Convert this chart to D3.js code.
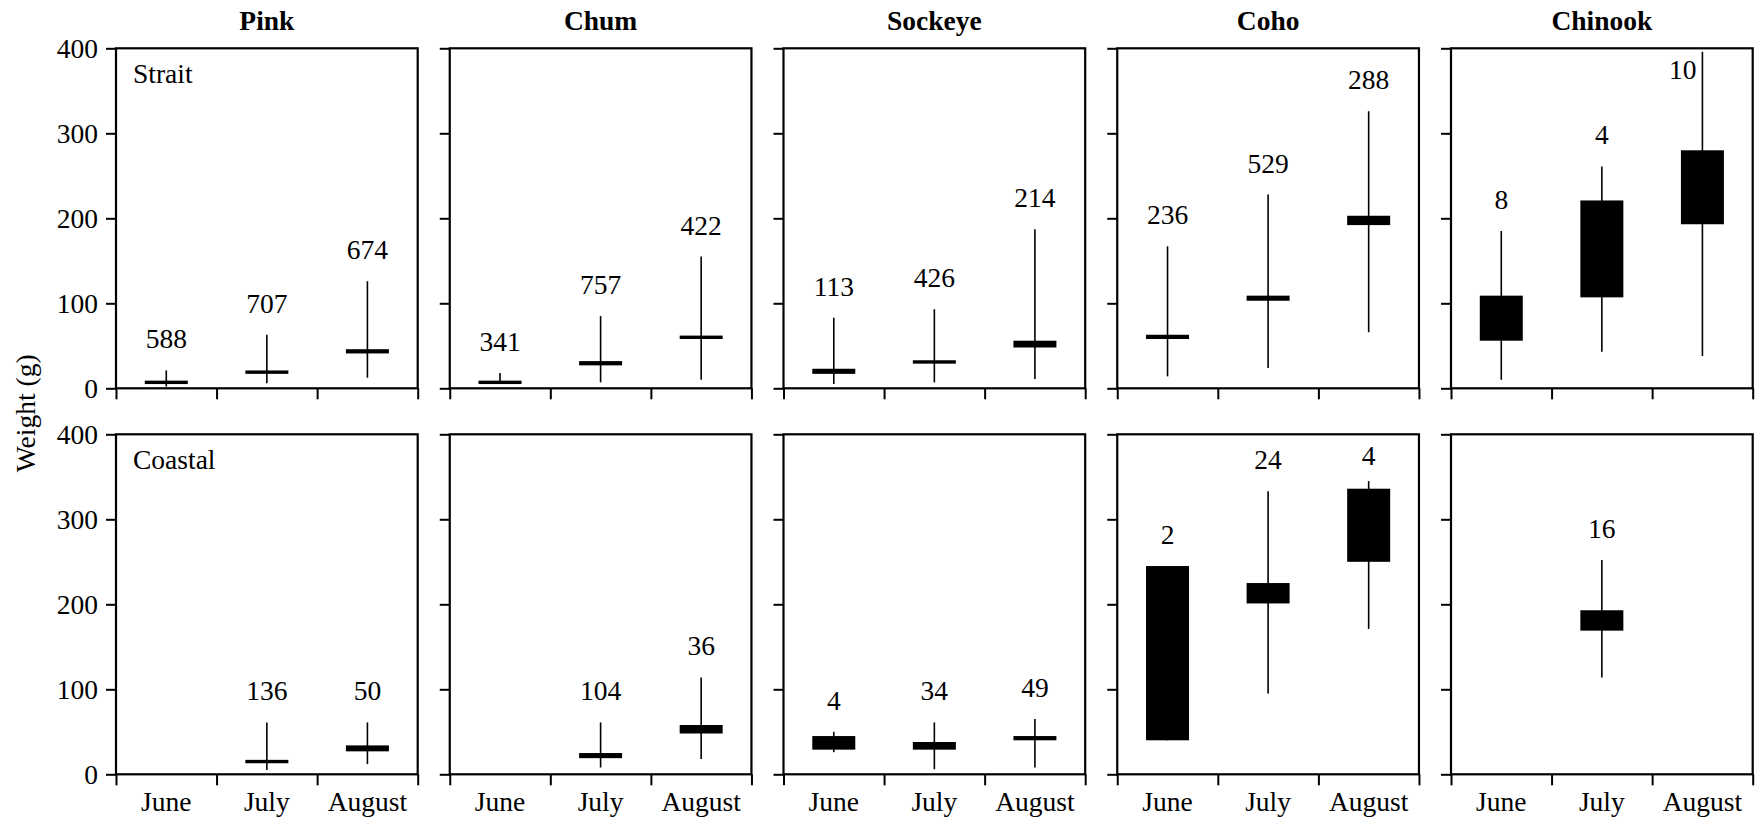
<!DOCTYPE html>
<html>
<head>
<meta charset="utf-8">
<script src="https://cdn.jsdelivr.net/npm/d3@7/dist/d3.min.js"></script>
<style>
  html, body { margin: 0; padding: 0; background: #fff; }
  svg { display: block; }
</style>
</head>
<body>
<svg id="chart" width="1760" height="822"></svg>
<script>
// Juvenile salmon weights by species, month and survey region
const species = ["Pink", "Chum", "Sockeye", "Coho", "Chinook"];
const months = ["June", "July", "August"];
const regions = ["Strait", "Coastal"];
const yTicks = [0, 100, 200, 300, 400];

// Strait of Georgia — [species][month]
const straitN       = [[588, 707, 674], [341, 757, 422], [113, 426, 214], [236, 529, 288], [8, 4, 10]];
const straitMin     = [[2, 6, 12.5], [6, 7, 10], [5, 7, 11], [14, 24, 66], [10, 43, 38]];
const straitBoxLow  = [[5, 17, 41], [5, 27, 58], [17, 29, 48], [58, 103, 192], [56, 107, 193]];
const straitBoxHigh = [[9, 21, 46], [9, 32, 62], [23, 33, 56], [63, 109, 203], [109, 221, 280]];
const straitMax     = [[21, 63, 126], [18, 85, 155], [83, 93, 187], [167, 228, 326], [185, 261, 396]];

// Coastal waters — [species][month]; null where no fish were caught
const coastalN       = [[null, 136, 50], [null, 104, 36], [4, 34, 49], [2, 24, 4], [null, 16, null]];
const coastalMin     = [[null, 5, 12], [null, 8, 18], [26, 6, 8], [40, 95, 171], [null, 114, null]];
const coastalBoxLow  = [[null, 13, 27], [null, 19, 48], [29, 29, 40], [40, 201, 250], [null, 169, null]];
const coastalBoxHigh = [[null, 17, 34], [null, 25, 58], [45, 38, 45], [245, 225, 336], [null, 193, null]];
const coastalMax     = [[null, 61, 61], [null, 61, 114], [50, 61, 65], [245, 333, 345], [null, 252, null]];

const regionData = [
  { n: straitN, min: straitMin, lo: straitBoxLow, hi: straitBoxHigh, max: straitMax },
  { n: coastalN, min: coastalMin, lo: coastalBoxLow, hi: coastalBoxHigh, max: coastalMax }
];

// Layout
const FONT = '"Liberation Serif"';
const svg = d3.select("#chart");
const panelW = 301.7, panelH = 340;
const colLeft = d3.scaleLinear().domain([0, 1]).range([116, 116 + 333.75]);
const rowTop = [48.3, 434.3];
const boxW = 43;
const fontSize = 27.5;

function label(sel) {
  return sel.style("font-family", FONT)
    .style("font-size", fontSize + "px").attr("fill", "#000");
}

species.forEach((sp, si) => {
  const x0 = colLeft(si);
  const xBand = d3.scaleBand().domain(months).range([x0, x0 + panelW]).padding(0);
  const xEdge = d3.scaleLinear().domain([0, months.length]).range([x0, x0 + panelW]);

  // species title
  label(svg.append("text"))
    .attr("x", x0 + panelW / 2).attr("y", 30)
    .attr("text-anchor", "middle")
    .style("font-weight", "bold")
    .text(sp);

  regions.forEach((rg, ri) => {
    const top = rowTop[ri], bottom = top + panelH;
    const y = d3.scaleLinear().domain([0, 400]).range([bottom, top]);
    const d = regionData[ri];
    const g = svg.append("g");

    // y axis (labels only on the first column)
    const yAxis = d3.axisLeft(y).tickValues(yTicks).tickSize(10).tickPadding(8)
      .tickFormat(si === 0 ? d3.format("d") : () => "");
    const ya = g.append("g").attr("transform", `translate(${x0},0)`).call(yAxis);
    ya.select(".domain").remove();
    ya.selectAll("line").attr("stroke", "#000").attr("stroke-width", 2);
    label(ya.selectAll("text"));

    // x axis: ticks at month boundaries, month names on the bottom row
    const xAxis = d3.axisBottom(xEdge).tickValues(d3.range(months.length + 1))
      .tickSize(11).tickFormat(() => "");
    const xa = g.append("g").attr("transform", `translate(0,${bottom})`).call(xAxis);
    xa.select(".domain").remove();
    xa.selectAll("line").attr("stroke", "#000").attr("stroke-width", 2);
    if (ri === 1) {
      months.forEach(m => {
        label(g.append("text"))
          .attr("x", xBand(m) + xBand.bandwidth() / 2).attr("y", bottom + 37)
          .attr("text-anchor", "middle")
          .text(m);
      });
    }

    // frame
    g.append("rect")
      .attr("x", x0).attr("y", top).attr("width", panelW).attr("height", panelH)
      .attr("fill", "none").attr("stroke", "#000").attr("stroke-width", 2.2);

    if (si === 0) {
      label(g.append("text")).attr("x", x0 + 17).attr("y", top + 35).text(rg);
    }

    // boxes, whiskers and sample sizes
    months.forEach((m, mi) => {
      const n = d.n[si][mi];
      if (n == null) return;
      const cx = xBand(m) + xBand.bandwidth() / 2;
      const vMin = d.min[si][mi], vMax = d.max[si][mi];
      const vLo = d.lo[si][mi], vHi = d.hi[si][mi];

      g.append("line")
        .attr("x1", cx).attr("x2", cx)
        .attr("y1", y(vMin)).attr("y2", y(vMax))
        .attr("stroke", "#000").attr("stroke-width", 1.6);

      g.append("rect")
        .attr("x", cx - boxW / 2).attr("width", boxW)
        .attr("y", y(vHi)).attr("height", y(vLo) - y(vHi))
        .attr("fill", "#000");

      // sample size sits above the highest mark, kept inside the frame
      const markTop = y(Math.max(vMax, vHi));
      const minBase = top + 31;
      let base = markTop - 22;
      let anchor = "middle", lx = cx;
      if (base < minBase) {
        base = minBase;
        if (markTop < minBase - 5) { anchor = "end"; lx = cx - 6; }
      }
      label(g.append("text"))
        .attr("x", lx).attr("y", base)
        .attr("text-anchor", anchor)
        .text(n);
    });
  });
});

// shared y-axis title
label(svg.append("text"))
  .attr("transform", `translate(35,${(rowTop[0] + rowTop[1] + panelH) / 2 + 2}) rotate(-90)`)
  .attr("text-anchor", "middle")
  .text("Weight (g)");
</script>
</body>
</html>
